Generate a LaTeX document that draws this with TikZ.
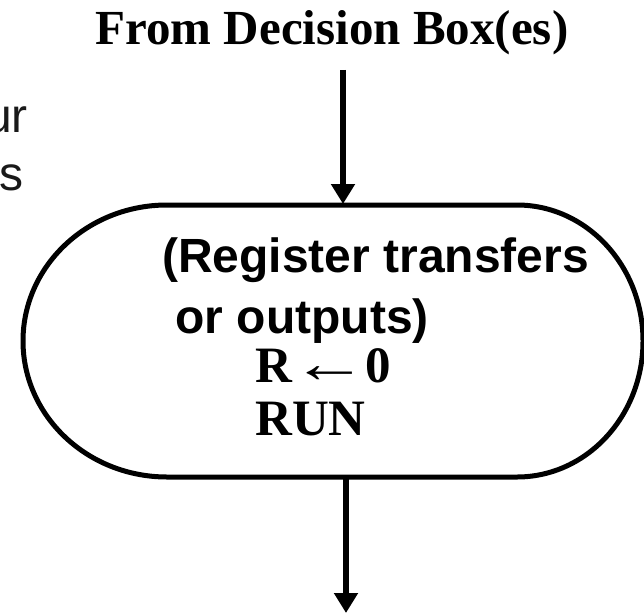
\documentclass[tikz,border=0pt]{standalone}
\usepackage{graphicx}
\usepackage{fontspec}
\setmainfont{Liberation Serif}
\newfontfamily\arialfont{Liberation Sans}
\usetikzlibrary{arrows.meta}
\begin{document}
\begin{tikzpicture}[x=1pt,y=-1pt,
  flowline/.style={line width=6pt, -{Triangle[width=23pt,length=20pt]}},
  outline/.style={line width=5pt},
  sanslabel/.style={font=\arialfont\bfseries\fontsize{48}{56}\selectfont, anchor=base west, inner sep=0pt},
  seriflabel/.style={font=\bfseries\fontsize{51}{56}\selectfont, anchor=base west, inner sep=0pt},
  edgetext/.style={font=\arialfont\fontsize{48}{56}\selectfont, anchor=base east, inner sep=0pt, text=black!90}]
\useasboundingbox (0,0) rectangle (644,615);
\clip (0,0) rectangle (644,615);

% heading
\node[font=\bfseries\fontsize{49}{56}\selectfont, anchor=base, inner sep=0pt] (title) at (332,45) {From Decision Box(es)};

% text running in from the left margin
\node[edgetext] (edgea) at (28,132) {ur};
\node[edgetext] (edgeb) at (24,190) {s};

% conditional output box with rounded ends
\draw[outline] (167,205) -- (517,205)
  arc[start angle=-90, end angle=90, x radius=126, y radius=136]
  -- (167,477)
  arc[start angle=90, end angle=270, x radius=144, y radius=136]
  -- cycle;
\coordinate (boxtop) at (343,204);
\coordinate (boxbot) at (346,477);

% box contents
\node[sanslabel] (l1) at (162,272) {(Register transfers};
\node[sanslabel] (l2) at (162,333) {\ or outputs)};
\node[seriflabel] (l3) at (255,382) {R\hspace{-1pt}\scalebox{1.5}[1.1]{←}\hspace{-2pt}0};
\node[seriflabel] (l4) at (255,435) {RUN};

% flow lines
\coordinate (in) at (343,70);
\coordinate (out) at (346,613);
\draw[flowline] (in) -- (boxtop);
\draw[flowline] (boxbot) -- (out);
\end{tikzpicture}
\end{document}
